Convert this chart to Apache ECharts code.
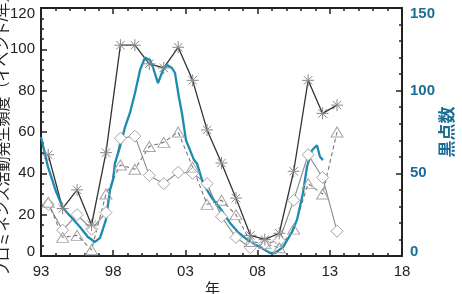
<!DOCTYPE html>
<html>
<head>
<meta charset="utf-8">
<script src="https://cdn.jsdelivr.net/npm/echarts@6/dist/echarts.min.js"></script>
<style>html,body{margin:0;padding:0;background:#fff;}#c{width:462px;height:294px;}</style>
</head>
<body>
<div id="c"></div>
<script>
// Observation years (mid-year)
const obsYears = [1993.5,1994.5,1995.5,1996.5,1997.5,1998.5,1999.5,2000.5,2001.5,2002.5,2003.5,2004.5,2005.5,2006.5,2007.5,2008.5,2009.5,2010.5,2011.5,2012.5,2013.5];
// Prominence activity series (events / year)
const asteriskValues = [49,23,32,15,50,102,102,93,91,101,85,61,45,28,10,8,11,41,85,69,73];
const diamondValues  = [25,12.5,20,13,21,57,58,39,35,40.5,40,35,19,9,4,6,7.5,27,49,38,12];
const triangleValues = [26,9,10,3,30,44,42,53,55,60,43,25,27,20,7,6,4,13,35,30,60];
// Sunspot number
const sunspotYears  = [1993.0,1993.48,1994.04,1994.52,1995.08,1995.7,1996.25,1996.74,1997.09,1997.5,1997.78,1997.99,1998.12,1998.47,1998.82,1999.16,1999.51,1999.86,2000.2,2000.41,2000.55,2000.76,2001.1,2001.45,2001.73,2002.07,2002.28,2002.55,2002.76,2003.04,2003.32,2003.6,2003.8,2004.22,2004.84,2005.4,2006.09,2006.64,2007.47,2008.16,2008.86,2009.2,2009.76,2010.38,2010.73,2011.14,2011.42,2011.77,2012.11,2012.32,2012.53];
const sunspotValues = [72,54,39,29,23.6,17.5,11.5,8.5,11,22,40,46,56,66,78,86.5,98.6,112.5,120,119,118.6,114,104.6,112.5,115.5,113.7,110.7,96,86.5,70,64,58,56,44,35,29,20,14.5,8.5,5.4,1.8,1.8,5.4,14.5,22,38,54,64,67,60,58];
// Tick settings
const yLeftTicks = {min:0, max:120, interval:20};
const yRightTicks = {min:0, max:150, interval:50};
const xTicks = {min:1993, max:2018, interval:5};

const FONT = "'Liberation Sans','Noto Sans CJK JP',sans-serif";
const AX = '#222';
const BLUE_LINE = '#1d8ab0';
const BLUE_TEXT = '#1a6e96';

const pair = (xs, ys) => xs.map((x,i)=>[x, ys[i]]);
const yr = v => { const y = Math.round(v) % 100; return (y<10?'0':'') + y; };
const edgeLabel = (lo, hi) => v => v === hi ? '{hi|' + v + '}' : (v === lo ? '{lo|' + v + '}' : String(v));

const chart = echarts.init(document.getElementById('c'), null, {renderer:'canvas'});
const axisLine = {show:true, onZero:false, lineStyle:{color:AX, width:2}};
const richEdge = {hi:{padding:[11,0,0,0]}, lo:{padding:[0,0,8,0]}};
chart.setOption({
  animation:false,
  backgroundColor:'#fff',
  grid:{left:41, right:60, top:8, bottom:38, containLabel:false, outerBoundsMode:'none'},
  xAxis:[
    {type:'value', position:'bottom', min:xTicks.min, max:xTicks.max, interval:xTicks.interval,
     axisLine:axisLine,
     axisTick:{show:true, inside:true, length:6, lineStyle:{color:AX, width:1.5}},
     minorTick:{show:true, splitNumber:5, length:3, lineStyle:{color:AX, width:1.5}},
     splitLine:{show:false},
     axisLabel:{formatter:yr, fontSize:15, color:'#222', fontFamily:FONT, margin:8},
     name:'年', nameLocation:'middle', nameGap:26, nameMoveOverlap:false,
     nameTextStyle:{fontSize:15, color:'#222', fontFamily:FONT, padding:[0,18,0,0]}},
    {type:'value', position:'top', min:xTicks.min, max:xTicks.max, interval:xTicks.interval,
     axisLine:axisLine,
     axisTick:{show:true, inside:true, length:6, lineStyle:{color:AX, width:1.5}},
     minorTick:{show:true, splitNumber:5, length:3, lineStyle:{color:AX, width:1.5}},
     splitLine:{show:false}, axisLabel:{show:false}}
  ],
  yAxis:[
    {type:'value', position:'left', min:yLeftTicks.min, max:yLeftTicks.max, interval:yLeftTicks.interval,
     axisLine:axisLine,
     axisTick:{show:true, inside:true, length:6, lineStyle:{color:AX, width:1.5}},
     minorTick:{show:true, splitNumber:4, length:3, lineStyle:{color:AX, width:1.5}},
     splitLine:{show:false},
     axisLabel:{fontSize:15, color:'#222', fontFamily:FONT, margin:6,
       formatter:edgeLabel(yLeftTicks.min, yLeftTicks.max), rich:richEdge},
     name:'プロミネンス活動発生頻度（イベント/年）', nameLocation:'middle', nameGap:30, nameMoveOverlap:false,
     nameTextStyle:{fontSize:15, color:'#222', fontFamily:FONT}},
    {type:'value', position:'right', min:yRightTicks.min, max:yRightTicks.max, interval:yRightTicks.interval,
     axisLine:axisLine,
     axisTick:{show:true, inside:true, length:6, lineStyle:{color:AX, width:1.5}},
     minorTick:{show:true, splitNumber:5, length:3, lineStyle:{color:AX, width:1.5}},
     splitLine:{show:false},
     axisLabel:{fontSize:15, fontWeight:'bold', color:BLUE_TEXT, fontFamily:FONT, margin:8,
       formatter:edgeLabel(yRightTicks.min, yRightTicks.max), rich:richEdge},
     name:'黒点数', nameLocation:'middle', nameGap:38, nameMoveOverlap:false,
     nameTextStyle:{fontSize:17, fontWeight:'bold', color:BLUE_TEXT, fontFamily:FONT}}
  ],
  series:[
    {type:'line', name:'diamond', xAxisIndex:0, yAxisIndex:0, data:pair(obsYears, diamondValues),
     symbol:'path://M5,0L10,5L5,10L0,5Z', symbolSize:[12,12],
     lineStyle:{color:'#888', width:1.1},
     itemStyle:{color:'#fff', borderColor:'#a5a5a5', borderWidth:1}},
    {type:'line', name:'triangle', xAxisIndex:0, yAxisIndex:0, data:pair(obsYears, triangleValues),
     symbol:'path://M5,0L10,9L0,9Z', symbolSize:[12,10],
     lineStyle:{color:'#777', width:1.1, type:[4,3]},
     itemStyle:{color:'transparent', borderColor:'#a5a5a5', borderWidth:1}},
    {type:'line', name:'asterisk', xAxisIndex:0, yAxisIndex:0, data:pair(obsYears, asteriskValues),
     symbol:'path://M0,5L10,5M5,0L5,10M1.5,1.5L8.5,8.5M1.5,8.5L8.5,1.5', symbolSize:[12,12],
     lineStyle:{color:'#333', width:1.3},
     itemStyle:{color:'transparent', borderColor:'#888', borderWidth:1}},
    {type:'line', name:'sunspot', xAxisIndex:0, yAxisIndex:1, data:pair(sunspotYears, sunspotValues),
     showSymbol:false, symbol:'none',
     lineStyle:{color:BLUE_LINE, width:2.3}}
  ]
});
</script>
</body>
</html>
